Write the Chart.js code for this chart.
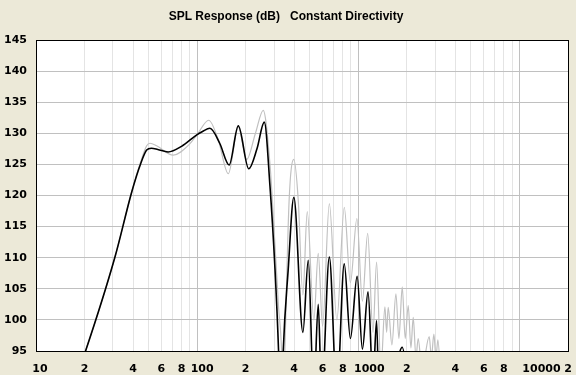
<!DOCTYPE html>
<html>
<head>
<meta charset="utf-8">
<script src="https://cdn.jsdelivr.net/npm/chart.js@4/dist/chart.umd.min.js"></script>
<style>
  html, body { margin: 0; padding: 0; background: #ECE9D8; }
</style>
</head>
<body>
<canvas id="splChart" width="576" height="375"></canvas>
<script>
const chartTitle = "SPL Response (dB)   Constant Directivity";

// x axis labels (log frequency)
const xLabelValues = [10, 20, 40, 60, 80, 100, 200, 400, 600, 800, 1000, 2000, 4000, 6000, 8000, 10000, 20000];
const xLabelTexts = ["10", "2", "4", "6", "8", "100", "2", "4", "6", "8", "1000", "2", "4", "6", "8", "10000", "2"];

// black curve (on-axis)
const blackFreq = [17, 20.3, 30.9, 39.3, 44.6, 48.6, 52, 57, 66, 80, 100, 108, 120, 138, 158, 180, 209, 235, 261,
  283, 304, 320, 331, 342, 367, 398, 453, 489, 529, 564, 592, 661, 736, 818, 893, 983, 1060, 1149, 1233, 1298, 1352,
  1600, 1872, 2100, 3000, 20000];
const blackDb = [89.5, 95, 110.1, 120.6, 125.1, 127.3, 127.6, 127.4, 127.0, 127.9, 129.8, 130.3, 130.8, 128.4, 124.9, 131.2, 124.3, 127.5, 131.8,
  121.5, 108.2, 95, 82, 95, 108, 119.7, 98, 109.6, 88, 102.5, 88, 110.1, 88, 109, 97, 107, 95.3, 104.5, 90, 99.9, 85,
  88, 95.6, 88, 85, 80];

// grey curve
const grayFreq = [17, 20.3, 30.9, 39.3, 44.6, 48.6, 51, 56, 71, 90, 100, 118, 135, 156, 180, 203, 230, 257,
  283, 304, 320, 334, 341, 350, 372, 398, 424, 453, 482, 530, 564, 600, 661, 736, 818, 893, 980, 1060, 1143, 1233, 1298,
  1381, 1462, 1498, 1532, 1616, 1711, 1786, 1873, 1954, 2040, 2120, 2191, 2277, 2353, 2480, 2754, 2841, 2944, 3030, 3118,
  3300, 20000];
const grayDb = [89.5, 95, 110.1, 120.6, 125.4, 128.0, 128.4, 128.0, 126.5, 128.3, 129.8, 132.1, 129, 123.5, 131, 125.8, 130, 133.7,
  125, 112, 102, 95, 85, 95, 119.2, 125.8, 119.2, 104, 117.4, 100, 110.7, 99, 118.7, 100, 118.1, 106, 116.3, 103, 113.9, 98, 109.3,
  92, 102.1, 98, 102, 96, 104.2, 97, 105.3, 97, 102.3, 95.5, 100.4, 94, 97, 92, 97.3, 94, 97.7, 94, 96.8,
  88, 80];

const toPoints = (xs, ys) => xs.map((x, i) => ({ x: x, y: ys[i] }));

const frame = {
  id: "frame",
  beforeDraw(chart) {
    const { ctx, chartArea: a } = chart;
    ctx.save();
    ctx.fillStyle = "#ECE9D8";
    ctx.fillRect(0, 0, chart.width, chart.height);
    ctx.fillStyle = "#FFFFFF";
    ctx.fillRect(a.left, a.top, a.right - a.left, a.bottom - a.top);
    ctx.restore();
  },
  afterDraw(chart) {
    const { ctx, chartArea: a } = chart;
    const xs = chart.scales.x;
    ctx.save();
    ctx.strokeStyle = "#000000";
    ctx.lineWidth = 1;
    ctx.strokeRect(a.left + 0.5, a.top + 0.5, a.right - a.left, a.bottom - a.top);
    // title
    ctx.fillStyle = "#000000";
    ctx.font = "bold 12px 'Liberation Sans'";
    ctx.textAlign = "center";
    ctx.textBaseline = "middle";
    ctx.fillText(chartTitle, 286, 17);
    // x labels, the old program nudges the long ones to the right
    const nudge = { 1: 0, 2: 4, 3: 5, 4: 11, 5: 22 };
    ctx.font = "bold 11px 'DejaVu Sans'";
    ctx.textBaseline = "top";
    xLabelValues.forEach((v, i) => {
      const t = xLabelTexts[i];
      ctx.fillText(t, xs.getPixelForValue(v) + nudge[t.length], a.bottom + 13);
    });
    ctx.restore();
  },
};

new Chart(document.getElementById("splChart"), {
  type: "line",
  data: {
    datasets: [
      {
        label: "on axis",
        data: toPoints(blackFreq, blackDb),
        borderColor: "#000000",
        borderWidth: 1.6,
        pointRadius: 0,
        cubicInterpolationMode: "monotone",
        clip: 0,
      },
      {
        label: "off axis",
        data: toPoints(grayFreq, grayDb),
        borderColor: "#C0C0C0",
        borderWidth: 1.2,
        pointRadius: 0,
        cubicInterpolationMode: "monotone",
        clip: 0,
      },
    ],
  },
  options: {
    responsive: false,
    animation: false,
    layout: { padding: { top: 40, right: 8, left: 0, bottom: 0 } },
    plugins: { legend: { display: false }, tooltip: { enabled: false } },
    scales: {
      x: {
        type: "logarithmic",
        min: 10,
        max: 20000,
        afterBuildTicks(scale) {
          const ticks = [];
          for (let d = 10; d <= 10000; d *= 10) {
            for (let m = 1; m <= 9; m++) ticks.push({ value: d * m });
          }
          ticks.push({ value: 20000 });
          scale.ticks = ticks;
        },
        afterFit(scale) { scale.height = 24; },
        ticks: { display: false },
        border: { display: false },
        grid: {
          drawTicks: false,
          color: (c) => ([100, 1000, 10000].includes(c.tick && c.tick.value) ? "#C0C0C0" : "#E4E4E4"),
        },
      },
      y: {
        min: 95,
        max: 145,
        afterFit(scale) { scale.width = 36; },
        ticks: {
          stepSize: 5,
          padding: 9,
          color: "#000000",
          font: { family: "DejaVu Sans", weight: "bold", size: 11 },
        },
        border: { display: false },
        grid: { drawTicks: false, color: "#C0C0C0" },
      },
    },
  },
  plugins: [frame],
});
</script>
</body>
</html>
